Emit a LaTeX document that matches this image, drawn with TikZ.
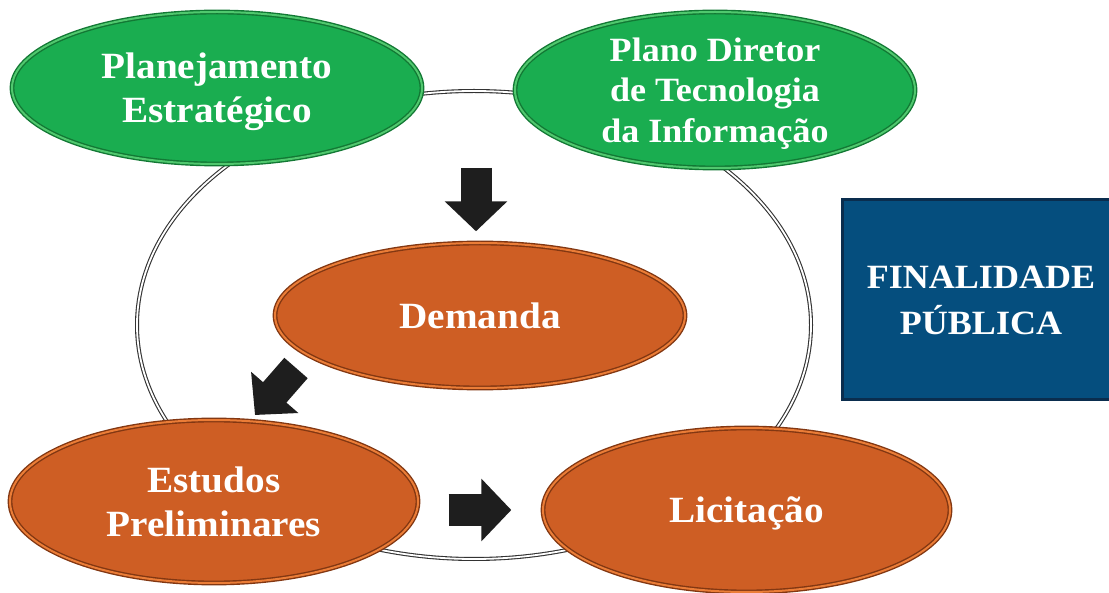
\documentclass[tikz,border=0pt]{standalone}
\usepackage{fontspec}
\setmainfont{Liberation Serif}[FakeStretch=1.06]
\usetikzlibrary{shapes.geometric,arrows.meta}

\definecolor{verdeFundo}{RGB}{26,173,80}
\definecolor{verdeBorda}{RGB}{18,120,52}
\definecolor{verdeClaro}{RGB}{80,200,110}
\definecolor{laranjaFundo}{RGB}{206,94,36}
\definecolor{laranjaBorda}{RGB}{130,55,18}
\definecolor{laranjaClaro}{RGB}{235,125,55}
\definecolor{azulFundo}{RGB}{5,78,126}
\definecolor{azulBorda}{RGB}{10,45,78}
\definecolor{seta}{RGB}{30,30,30}

\begin{document}
\begin{tikzpicture}[x=1pt, y=-1pt,
    etapa/.style={ellipse, inner sep=0pt, text=white, align=center, text depth=0pt,
        line width=1.4pt, double distance=2pt},
    verde/.style={etapa, fill=verdeFundo, draw=verdeBorda, double=verdeClaro},
    laranja/.style={etapa, fill=laranjaFundo, draw=laranjaBorda, double=laranjaClaro,
        font=\bfseries\fontsize{37}{44}\selectfont},
    quadro/.style={rectangle, fill=azulFundo, draw=azulBorda, line width=3pt, text=white,
        align=center, text depth=0pt, font=\bfseries\fontsize{34}{46}\selectfont},
    anel/.style={draw=black!80, double=white, line width=1.1pt, double distance=1.8pt},
    bloco/.style={draw=seta, line width=31pt, -{Triangle[length=30pt, width=61pt]}}
]
\useasboundingbox (0,0) rectangle (1109,593);
\clip (0,0) rectangle (1109,593);

% Ciclo ao fundo
\draw[anel] (474,325) ellipse [x radius=337, y radius=234];

% Planejamento
\node[verde, minimum width=410pt, minimum height=152pt,
    font=\bfseries\fontsize{37}{44}\selectfont] (planej) at (217,88) {Planejamento\\Estratégico};
\node[verde, minimum width=400pt, minimum height=156pt,
    font=\bfseries\fontsize{34}{40.5}\selectfont] (pdti) at (715,90) {Plano Diretor\\de Tecnologia\\da Informação};

% Etapas
\node[laranja, minimum width=410pt, minimum height=145pt] (demanda) at (480,315.5) {Demanda};
\node[laranja, minimum width=408pt, minimum height=163pt] (estudos) at (214,501.5) {Estudos\\Preliminares};
\node[laranja, minimum width=407pt, minimum height=164pt] (licit) at (746.5,510) {Licitação};

% Finalidade
\node[quadro, minimum width=278pt, minimum height=200pt] (final) at (981,300) {FINALIDADE\\PÚBLICA};

% Setas
\coordinate (topo) at (476,168);
\coordinate (sai) at (296,368);
\coordinate (chega) at (255,415);
\draw[bloco, shorten >=11pt] (topo) -- (topo |- demanda.north);
\draw[bloco] (sai) -- (chega);
\draw[bloco, shorten <=30pt, shorten >=31pt] (estudos.east |- licit.west) -- (licit.west);

\end{tikzpicture}
\end{document}
